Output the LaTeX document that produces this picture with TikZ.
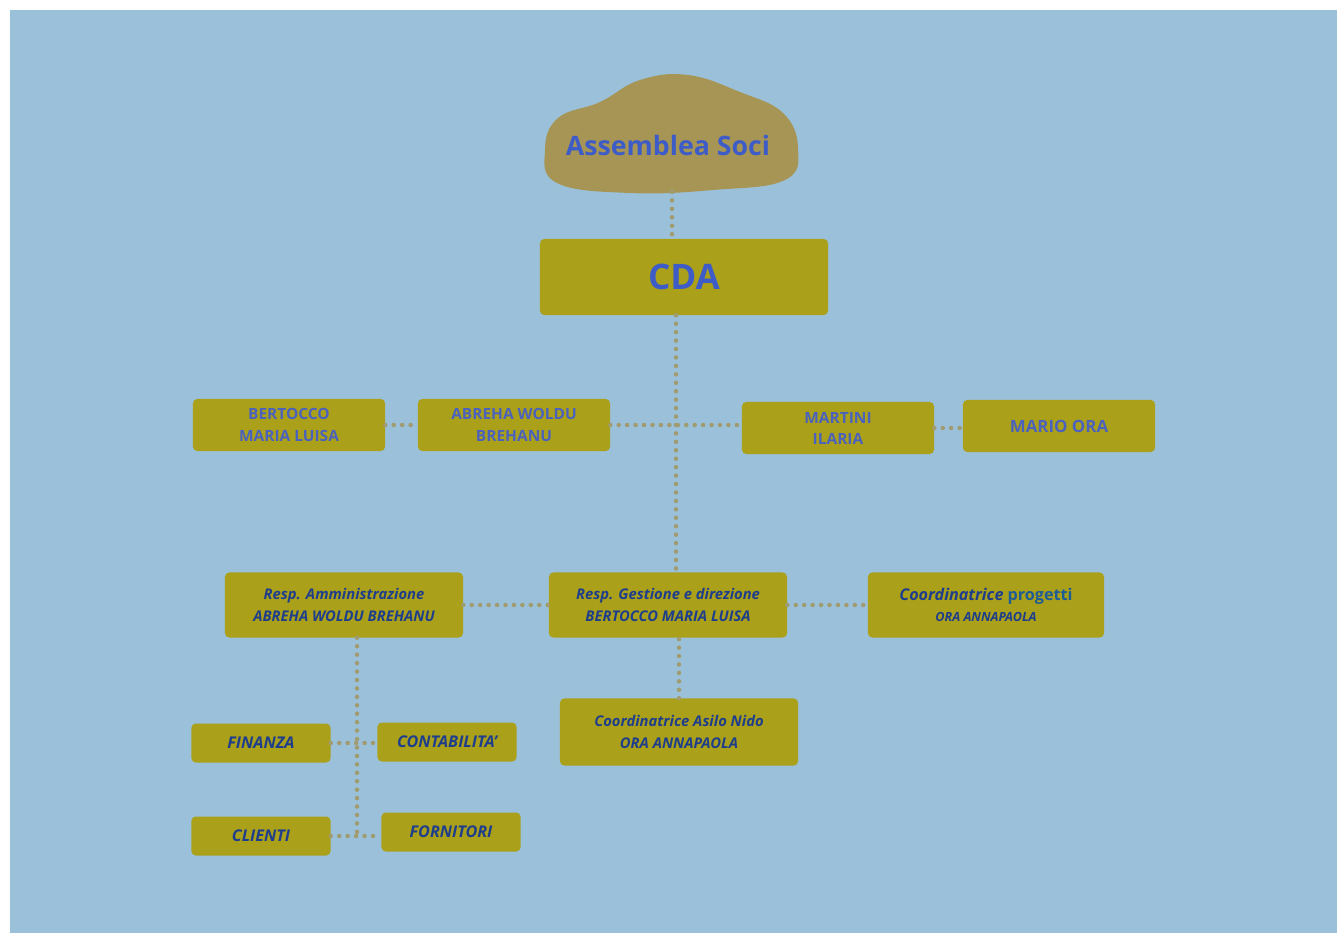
\documentclass[tikz,border=0pt]{standalone}
\usepackage{fontspec}
\setmainfont{Open Sans}
\usetikzlibrary{positioning}
\definecolor{sfondo}{RGB}{155,193,218}
\definecolor{senape}{RGB}{170,160,26}
\definecolor{nuvola}{RGB}{166,149,84}
\definecolor{puntini}{RGB}{160,155,112}
\definecolor{titolo}{RGB}{62,92,200}
\definecolor{nomi}{RGB}{74,98,190}
\definecolor{ruoli}{RGB}{30,62,140}
\definecolor{progetti}{RGB}{30,92,150}

\begin{document}
\begin{tikzpicture}[x=0.025cm,y=-0.025cm,
	box/.style={fill=senape, rounded corners=3pt, inner sep=0pt, align=center},
	nome/.style={box, minimum width=4.8cm, minimum height=1.3cm, text=nomi,
		font=\bfseries\fontsize{11}{15}\selectfont},
	resp/.style={box, minimum width=5.95cm, minimum height=1.625cm, text=ruoli,
		font=\bfseries\itshape\fontsize{10.5}{15}\selectfont},
	area/.style={box, minimum width=3.475cm, minimum height=0.975cm, text=ruoli,
		font=\bfseries\itshape\fontsize{11.5}{14}\selectfont},
	link/.style={draw=puntini, line width=3.2pt, dash pattern=on 0pt off 6pt, line cap=round}]
	\useasboundingbox (0,0) rectangle (1337,933);
	\fill[sfondo] (10,10) rectangle (1337,933);

	% assemblea
	\fill[nuvola] plot[smooth cycle, tension=0.7] coordinates
	{(545,150) (558,118) (600,102) (640,80) (688,75) (740,92) (783,113) (798,148) (785,180) (713,190) (630,193) (557,183)};
	\node[text=titolo, font=\bfseries\fontsize{19}{22}\selectfont] (soci) at (668,145) {Assemblea Soci};
	\coordinate (socibase) at (672,192);

	\node[box, minimum width=7.2cm, minimum height=1.9cm, text=titolo,
		font=\bfseries\fontsize{25}{28}\selectfont] (cda) at (684,277) {CDA};

	% consiglieri
	\node[nome] (bertocco) at (289,425) {BERTOCCO\\MARIA LUISA};
	\node[nome] (abreha) at (514,425) {ABREHA WOLDU\\BREHANU};
	\node[nome] (martini) at (838,428) {MARTINI\\ILARIA};
	\node[nome, font=\bfseries\fontsize{12}{15}\selectfont] (mario) at (1059,426) {MARIO ORA};

	% responsabili
	\node[resp] (amm) at (344,605) {Resp. Amministrazione\\ABREHA WOLDU BREHANU};
	\node[resp] (gest) at (668,605) {Resp. Gestione e direzione\\BERTOCCO MARIA LUISA};
	\node[resp, minimum width=5.9cm] (prog) at (986,605)
		{{\fontsize{11.5}{15}\selectfont Coordinatrice \textcolor{progetti}{\upshape progetti}}\\
		{\fontsize{9}{12}\selectfont ORA ANNAPAOLA}};
	\node[resp, minimum height=1.675cm] (asilo) at (679,732) {Coordinatrice Asilo Nido\\ORA ANNAPAOLA};

	% uffici
	\node[area] (finanza) at (261,743) {FINANZA};
	\node[area] (contab) at (447,742) {CONTABILITA'};
	\node[area] (clienti) at (261,836) {CLIENTI};
	\node[area] (fornitori) at (451,832) {FORNITORI};
	\coordinate (ammbase) at (357,834);

	\draw[link] (socibase) -- (socibase |- cda.north);
	\draw[link] ([xshift=-0.2cm]cda.south) -- ([xshift=0.2cm]gest.north);
	\draw[link] (abreha.east) -- (abreha.east -| martini.west);
	\draw[link] (asilo.north) -- (asilo.north |- gest.south);
	\draw[link] ([xshift=0.325cm]amm.south) -- (ammbase);
	\foreach \Da/\A in
	{bertocco/abreha,martini/mario,amm/gest,gest/prog,finanza/contab,clienti/fornitori}
		\draw[link] (\Da.east) -- (\Da.east -| \A.west);

\end{tikzpicture}
\end{document}
